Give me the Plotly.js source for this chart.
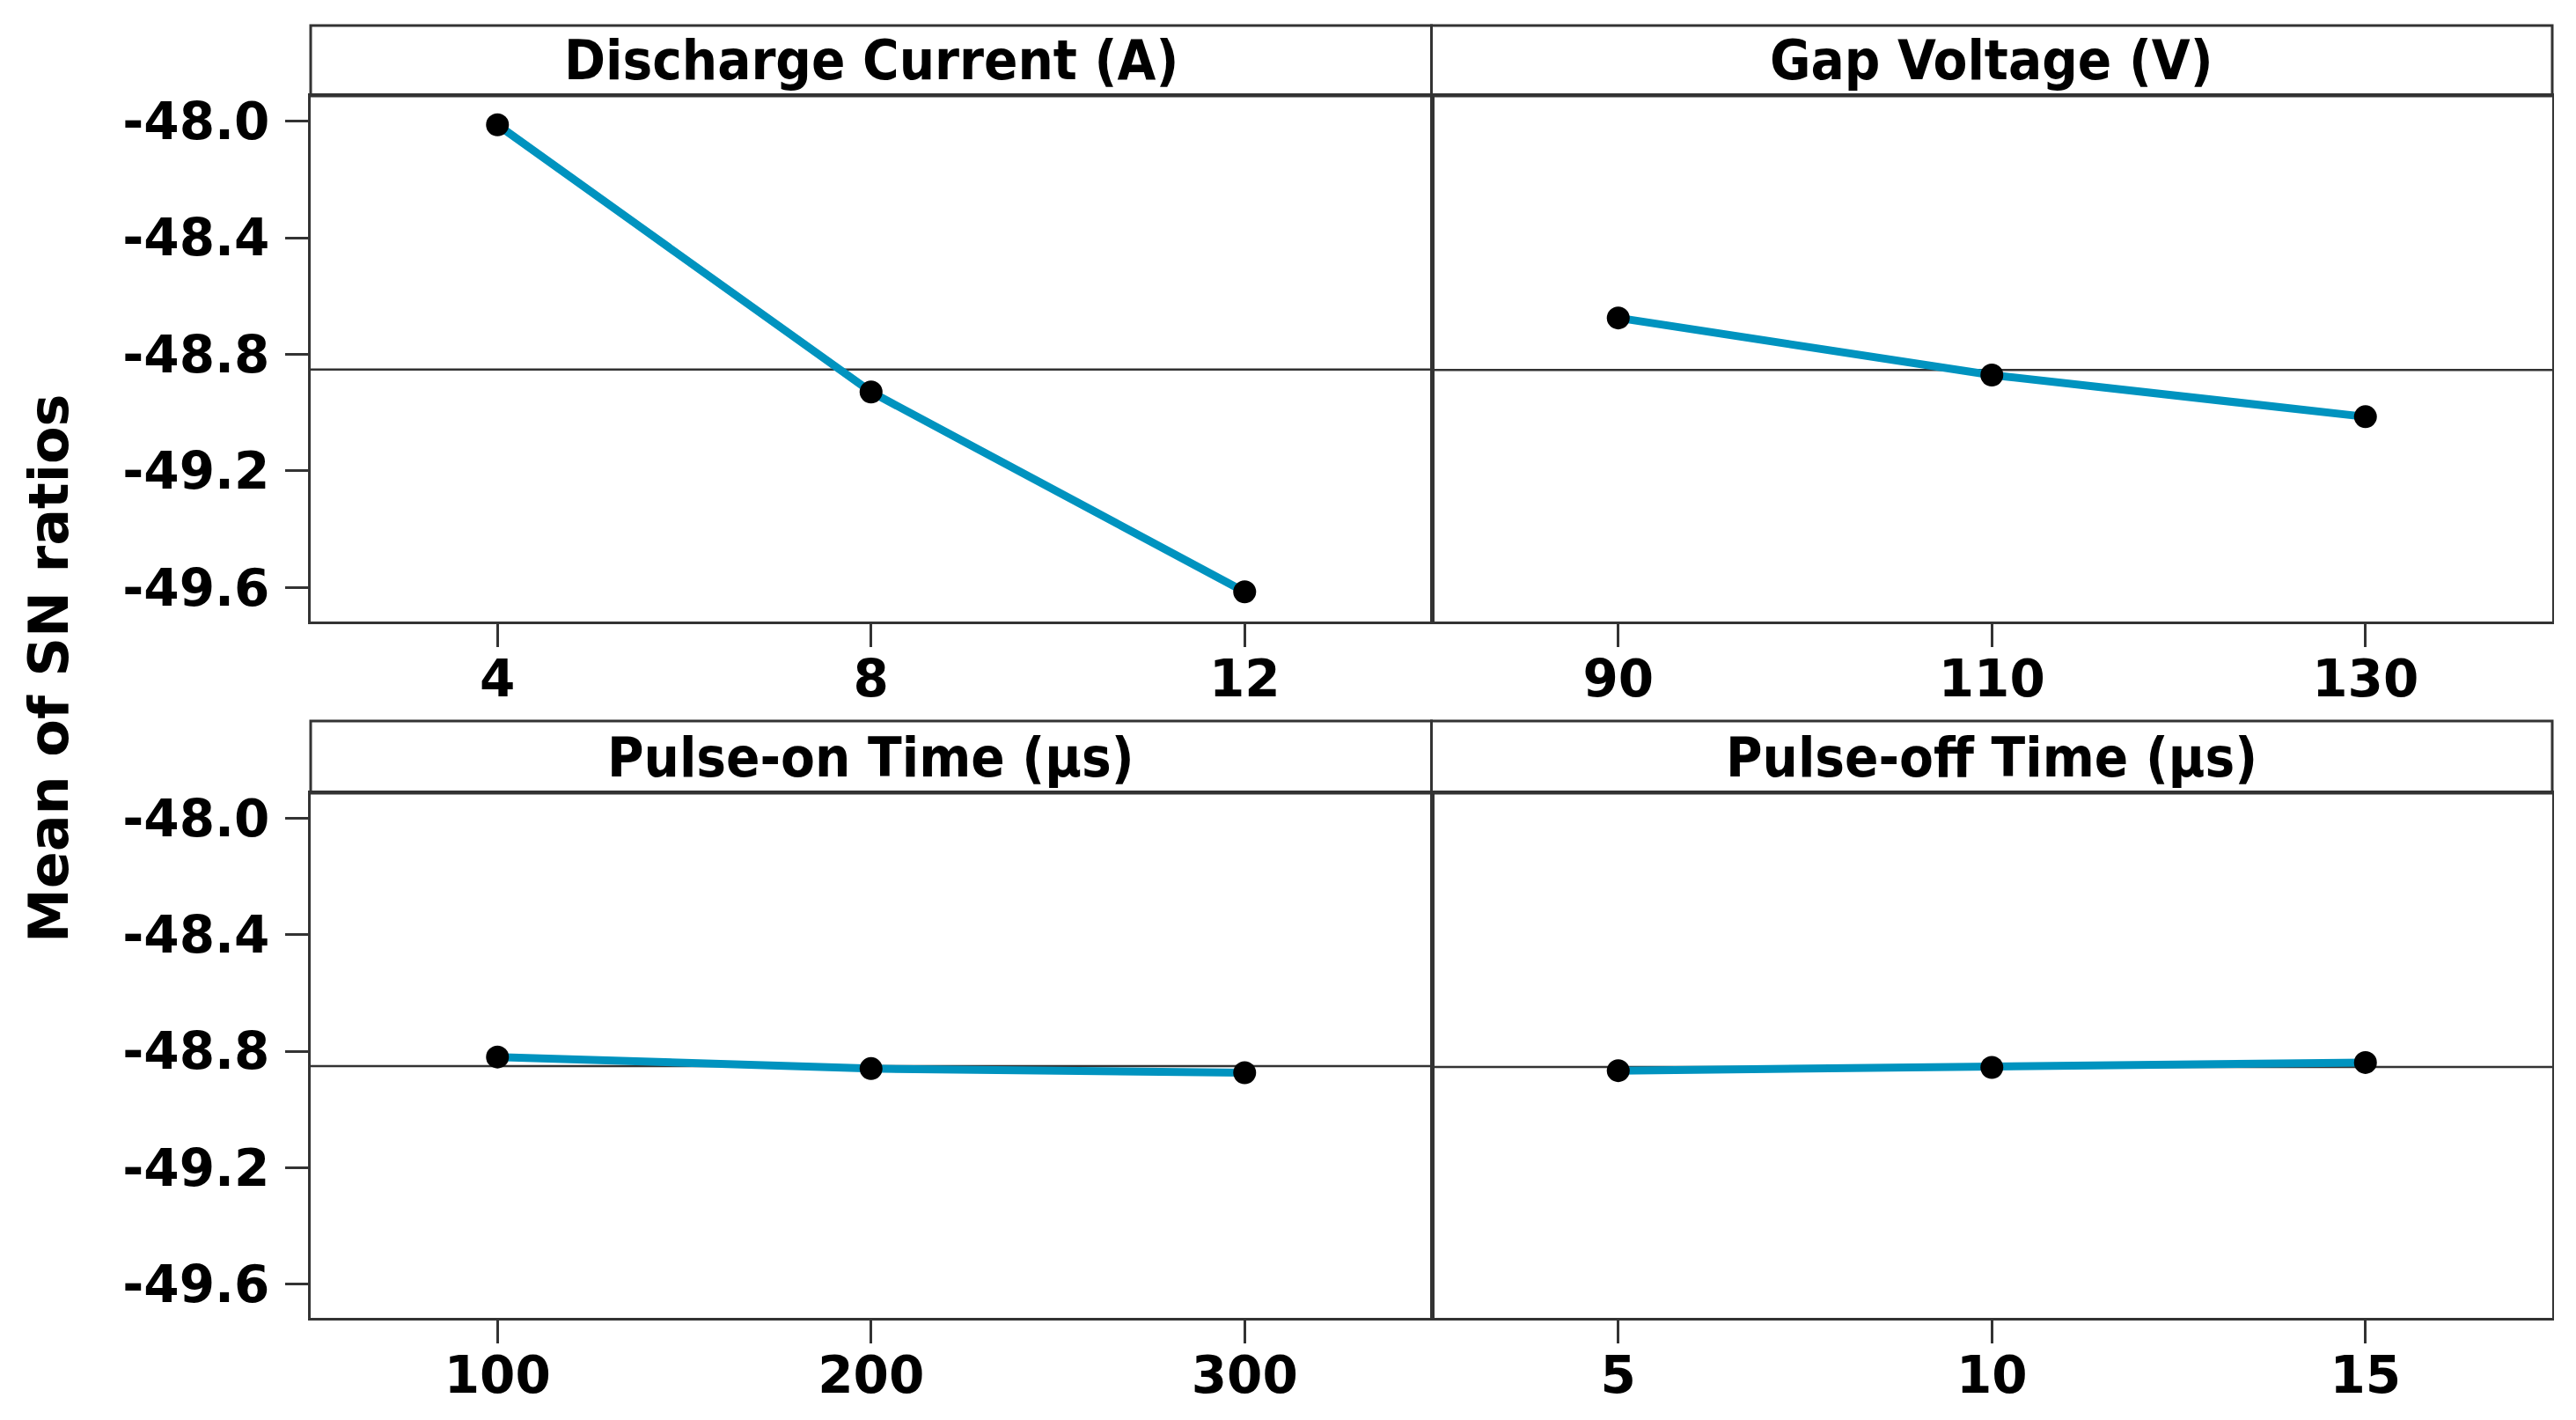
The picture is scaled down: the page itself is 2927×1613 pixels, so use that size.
<!DOCTYPE html>
<html>
<head>
<meta charset="utf-8">
<script src="https://cdn.plot.ly/plotly-3.0.1.min.js"></script>
<style>html,body{margin:0;padding:0;background:#fff;}#chart{width:2927px;height:1613px;}</style>
</head>
<body>
<div id="chart"></div>
<script>
// ---- data ----
const panelTitles = ["Discharge Current (A)", "Gap Voltage (V)", "Pulse-on Time (μs)", "Pulse-off Time (μs)"];
const dischargeLevels = [4, 8, 12];
const dischargeSN = [-48.012, -48.929, -49.615];
const gapLevels = [90, 110, 130];
const gapSN = [-48.675, -48.871, -49.014];
const pulseOnLevels = [100, 200, 300];
const pulseOnSN = [-48.820, -48.860, -48.874];
const pulseOffLevels = [5, 10, 15];
const pulseOffSN = [-48.867, -48.856, -48.839];
const yTickVals = [-48.0, -48.4, -48.8, -49.2, -49.6];
const yTickText = ["-48.0", "-48.4", "-48.8", "-49.2", "-49.6"];
const yAxisTitle = "Mean of SN ratios";

// ---- layout constants ----
const W = 2927, H = 1613;
const LINE = '#0093bf';
const AXC = '#333333';
const tickFont = {family: 'DejaVu Sans, Verdana, sans-serif', size: 58, color: '#000', weight: 'bold'};
const stripFont = {family: 'DejaVu Sans Condensed, DejaVu Sans, sans-serif', size: 63, color: '#000', weight: 'bold'};

const levels = [dischargeLevels, gapLevels, pulseOnLevels, pulseOffLevels];
const values = [dischargeSN, gapSN, pulseOnSN, pulseOffSN];

function pad(arr) {
  const step = arr[1] - arr[0];
  return [arr[0] - step / 2, arr[arr.length - 1] + step / 2];
}
const mean = a => a.reduce((s, v) => s + v, 0) / a.length;

const xDomains = [[0, 0.5], [0.5, 1], [0, 0.5], [0.5, 1]];
const topPlot = [1 - 706 / H, 1 - 109 / H];
const botPlot = [1 - 1497 / H, 1 - 901 / H];
const yDomains = [topPlot, topPlot, botPlot, botPlot];
const stripDomains = [[1 - 109 / H, 1 - 29 / H], [1 - 109 / H, 1 - 29 / H], [1 - 901 / H, 1 - 819 / H], [1 - 901 / H, 1 - 819 / H]];
const yRange = [-49.717, -47.913];

const traces = [];
const layout = {
  width: W, height: H,
  margin: {l: 353, r: 27, t: 0, b: 0},
  paper_bgcolor: '#fff', plot_bgcolor: '#fff',
  showlegend: false,
  shapes: [], annotations: []
};

for (let i = 0; i < 4; i++) {
  const n = i + 1;
  const xa = 'x' + (n === 1 ? '' : n), ya = 'y' + (n === 1 ? '' : n);
  traces.push({
    x: levels[i], y: values[i], xaxis: xa, yaxis: ya,
    type: 'scatter', mode: 'lines+markers',
    line: {color: LINE, width: 9},
    marker: {color: '#000', size: 26},
    cliponaxis: false, hoverinfo: 'skip'
  });
  const left = (i % 2 === 0);
  layout['xaxis' + (n === 1 ? '' : n)] = {
    domain: xDomains[i], anchor: ya, range: pad(levels[i]),
    tickvals: levels[i], ticktext: levels[i].map(String),
    ticks: 'outside', ticklen: 26, tickwidth: 3, tickcolor: AXC,
    tickfont: tickFont, ticklabelstandoff: -14,
    showline: true, mirror: true, linecolor: AXC, linewidth: 3,
    showgrid: false, zeroline: false, automargin: false, fixedrange: true
  };
  layout['yaxis' + (n === 1 ? '' : n)] = {
    domain: yDomains[i], anchor: xa, range: yRange,
    tickvals: yTickVals, ticktext: yTickText,
    ticks: left ? 'outside' : '', ticklen: 26, tickwidth: 3, tickcolor: AXC,
    showticklabels: left, tickfont: tickFont, ticklabelstandoff: 6,
    showline: true, mirror: true, linecolor: AXC, linewidth: left ? 3 : 2,
    showgrid: false, zeroline: false, automargin: false, fixedrange: true
  };
  // reference line at the overall mean
  layout.shapes.push({
    type: 'line', xref: xa + ' domain', yref: ya,
    x0: 0, x1: 1, y0: mean(values[i]), y1: mean(values[i]),
    line: {color: AXC, width: 2.5}, layer: 'below'
  });
  // strip box
  layout.shapes.push({
    type: 'rect', xref: 'paper', yref: 'paper',
    x0: xDomains[i][0], x1: xDomains[i][1], y0: stripDomains[i][0], y1: stripDomains[i][1],
    line: {color: AXC, width: 3}, fillcolor: 'rgba(0,0,0,0)'
  });
  layout.annotations.push({
    text: panelTitles[i], xref: 'paper', yref: 'paper',
    x: (xDomains[i][0] + xDomains[i][1]) / 2, y: (stripDomains[i][0] + stripDomains[i][1]) / 2,
    xanchor: 'center', yanchor: 'middle', showarrow: false, font: stripFont
  });
}

layout.annotations.push({
  text: yAxisTitle, xref: 'paper', yref: 'paper',
  x: (55 - 353) / (W - 353 - 27), y: 1 - 760 / H,
  xanchor: 'center', yanchor: 'middle', textangle: -90, showarrow: false,
  font: {family: 'DejaVu Sans, Verdana, sans-serif', size: 62, color: '#000', weight: 'bold'}
});

Plotly.newPlot('chart', traces, layout, {staticPlot: true, displayModeBar: false});
</script>
</body>
</html>
